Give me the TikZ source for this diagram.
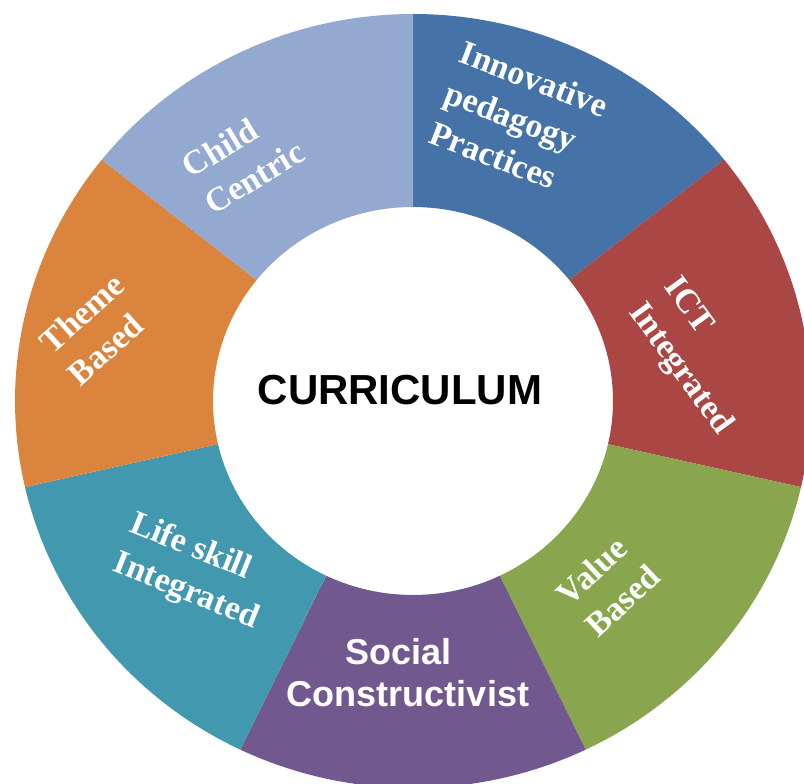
\documentclass[tikz,border=0pt]{standalone}
\usepackage{fontspec}
\usetikzlibrary{calc}
\setmainfont{Liberation Serif}
\setsansfont{Liberation Sans}
\definecolor{cChild}{HTML}{93A9CF}
\definecolor{cInno}{HTML}{4572A7}
\definecolor{cICT}{HTML}{AA4643}
\definecolor{cValue}{HTML}{89A54E}
\definecolor{cSocial}{HTML}{71588F}
\definecolor{cLife}{HTML}{4198AF}
\definecolor{cTheme}{HTML}{DB843D}
\tikzset{
  seglabel/.style={text=white, inner sep=0pt, align=left,
    font=\fontsize{34}{43}\selectfont\bfseries},
  sanslabel/.style={text=white, inner sep=0pt, align=center,
    font=\fontsize{36}{42}\selectfont\sffamily\bfseries},
  centerlabel/.style={text=black, inner sep=0pt,
    font=\fontsize{42}{48}\selectfont\sffamily\bfseries},
  seg/.style={fill=#1}
}
\begin{document}
\begin{tikzpicture}[x=1pt,y=1pt]
\useasboundingbox (0,0) rectangle (804,784);
\clip (0,0) rectangle (804,784);
\coordinate (C) at (413,383);
\foreach \a/\b/\c in {38.571/90/cInno, -12.857/38.571/cICT, -64.286/-12.857/cValue,
   -115.714/-64.286/cSocial, -167.143/-115.714/cLife, 141.429/192.857/cTheme, 90/141.429/cChild}{
  \fill[seg=\c] ($(C)+(\a:398pt and 387pt)$)
     arc[start angle=\a, end angle=\b, x radius=398pt, y radius=387pt]
     -- ($(C)+(\b:200pt and 194pt)$)
     arc[start angle=\b, end angle=\a, x radius=200pt, y radius=194pt] -- cycle;
}
\node[centerlabel] (cur) at (400,394) {CURRICULUM};
\node[seglabel, rotate=31] (child) at (243,625) {Child\\Centric};
\node[seglabel, rotate=-21] (inno) at (519,665) {Innovative\\pedagogy\\Practices};
\node[seglabel, rotate=-54] (ict) at (697,427) {ICT\\Integrated};
\node[seglabel, rotate=43] (value) at (608,199) {Value\\Based};
\node[sanslabel] (social) at (408,111) {Social\hspace*{19pt}\\Constructivist};
\node[seglabel, rotate=-22] (life) at (194,212) {Life skill\\Integrated};
\node[seglabel, rotate=42] (theme) at (96,455) {Theme\\Based};
\end{tikzpicture}
\end{document}
